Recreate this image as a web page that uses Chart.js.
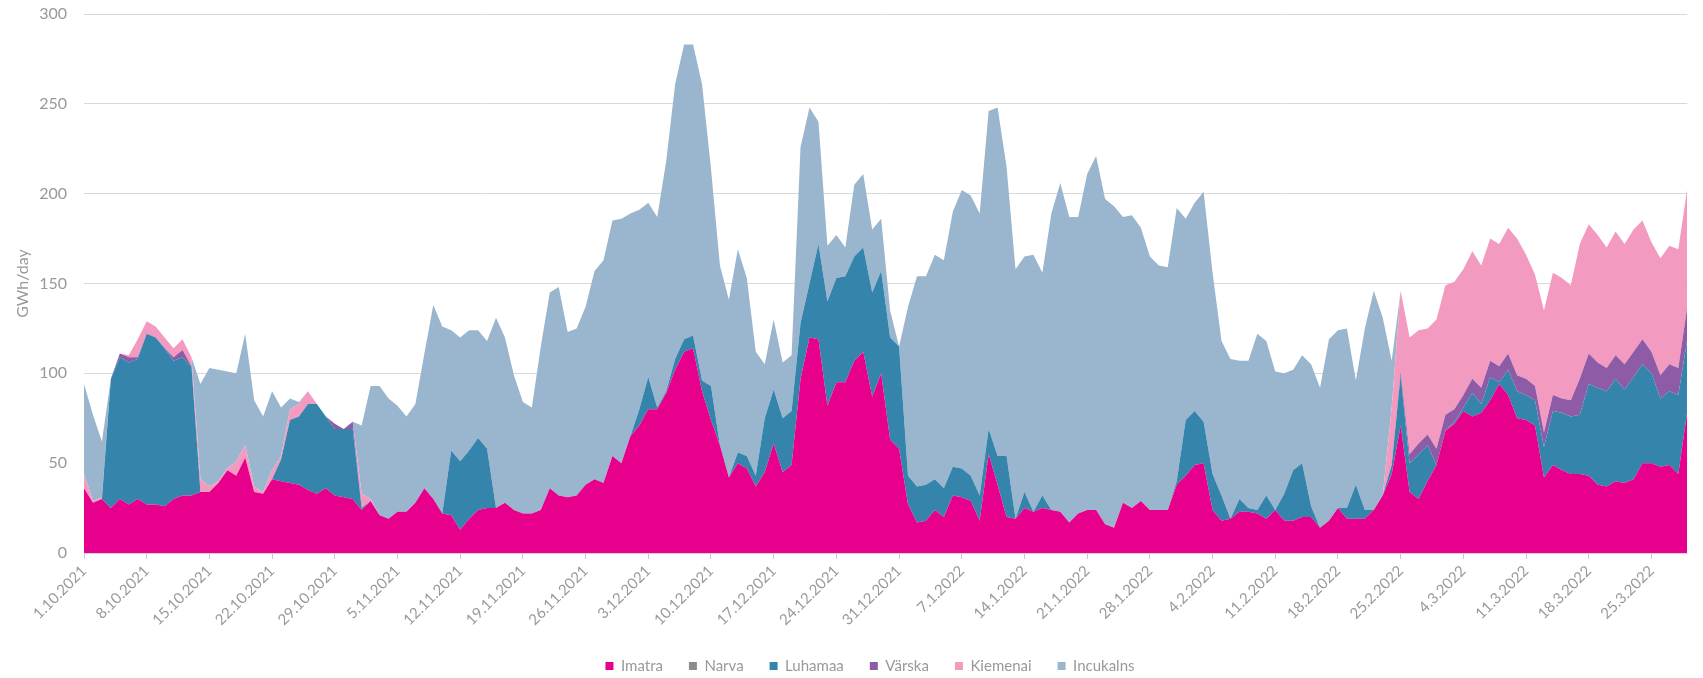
<!DOCTYPE html>
<html>
<head>
<meta charset="utf-8">
<script src="https://cdn.jsdelivr.net/npm/chart.js@4.4.1/dist/chart.umd.min.js"></script>
<style>
  html, body { margin: 0; padding: 0; background: #ffffff; overflow: hidden; }
  #wrap { width: 1703px; height: 678px; }
</style>
</head>
<body>
<div id="wrap"><canvas id="c" width="1703" height="678"></canvas></div>
<script>
// ---- Data (GWh/day), one value per day from 1.10.2021 to 29.3.2022 ----
const startDate = { year: 2021, month: 10, day: 1 };
const dayCount = 180;

const tickLabels = ['1.10.2021','8.10.2021','15.10.2021','22.10.2021','29.10.2021','5.11.2021','12.11.2021','19.11.2021','26.11.2021','3.12.2021','10.12.2021','17.12.2021','24.12.2021','31.12.2021','7.1.2022','14.1.2022','21.1.2022','28.1.2022','4.2.2022','11.2.2022','18.2.2022','25.2.2022','4.3.2022','11.3.2022','18.3.2022','25.3.2022'];

const seriesNames = ['Imatra', 'Narva', 'Luhamaa', 'Värska', 'Kiemenai', 'Incukalns'];

const imatra = [
  36,28,30,25,30,27,30,27,27,26,
  30,32,32,34,34,39,46,43,53,34,
  33,41,40,39,38,35,33,36,32,31,
  30,24,29,21,19,23,23,28,36,30,
  22,21,13,19,24,25,25,28,24,22,
  22,24,36,32,31,32,38,41,39,54,
  50,65,71,80,80,89,102,112,114,90,
  74,60,42,50,47,37,45,61,45,49,
  97,120,119,82,95,95,107,112,87,100,
  63,58,27,17,18,24,20,32,31,29,
  18,55,38,20,19,25,23,25,24,23,
  17,22,24,24,16,14,28,25,29,24,
  24,24,38,43,49,50,24,18,19,23,
  23,22,19,24,18,18,20,20,14,18,
  25,19,19,19,24,32,44,71,34,30,
  40,49,68,72,79,76,78,85,94,88,
  75,74,71,42,49,46,44,44,43,38,
  37,40,39,41,50,50,48,49,44,79
];

const narva = [
  0,0,0,0,0,0,0,0,0,0, 0,0,0,0,0,0,0,0,0,0,
  0,0,0,0,0,0,0,0,0,0, 0,0,0,0,0,0,0,0,0,0,
  0,0,0,0,0,0,0,0,0,0, 0,0,0,0,0,0,0,0,0,0,
  0,0,0,0,0,0,0,0,0,0, 0,0,0,0,0,0,0,0,0,0,
  0,0,0,0,0,0,0,0,0,0, 0,0,0,0,0,0,0,0,0,0,
  0,0,0,0,0,0,0,0,0,0, 0,0,0,0,0,0,0,0,0,0,
  0,0,0,0,0,0,0,0,0,0, 0,0,0,0,0,0,0,0,0,0,
  0,0,0,0,0,0,0,0,0,0, 0,0,0,0,0,0,0,0,0,0,
  0,0,0,0,0,0,0,0,0,0, 0,0,0,0,0,0,0,0,0,0
];

const luhamaa = [
  0,0,0,72,79,79,78,95,93,88,
  77,77,72,0,0,0,0,0,0,0,
  0,0,12,35,38,48,50,40,37,38,
  39,1,0,0,0,0,0,0,0,0,
  0,36,38,38,40,33,0,0,0,0,
  0,0,0,0,0,0,0,0,0,0,
  0,0,9,18,1,1,6,7,7,6,
  19,0,0,6,7,6,30,30,30,30,
  31,30,53,58,58,59,58,58,58,57,
  57,57,16,20,20,17,16,16,16,14,
  14,14,16,34,0,9,0,7,0,0,
  0,0,0,0,0,0,0,0,0,0,
  0,0,2,31,30,23,20,14,0,7,
  2,2,13,0,15,28,30,6,0,0,
  0,6,19,5,0,0,5,28,16,25,
  20,0,0,1,2,13,5,13,1,14,
  15,14,14,17,30,32,32,33,51,54,
  53,57,52,57,55,50,38,41,44,40
];

const varska = [
  0,0,0,0,2,3,1,0,0,0,
  2,4,0,0,0,0,0,0,0,0,
  0,0,0,0,0,0,0,0,3,0,
  4,0,0,0,0,0,0,0,0,0,
  0,0,0,0,0,0,0,0,0,0,
  0,0,0,0,0,0,0,0,0,0,
  0,0,0,0,0,0,0,0,0,0,
  0,0,0,0,0,0,0,0,0,0,
  0,0,0,0,0,0,0,0,0,0,
  0,0,0,0,0,0,0,0,0,0,
  0,0,0,0,0,0,0,0,0,0,
  0,0,0,0,0,0,0,0,0,0,
  0,0,0,0,0,0,0,0,0,0,
  0,0,0,0,0,0,0,0,0,0,
  0,0,0,0,0,0,0,2,5,6,
  6,9,9,7,7,8,9,9,9,9,
  9,9,8,8,9,8,9,20,17,14,
  13,13,14,14,14,12,13,15,15,18
];

const kiemenai = [
  8,1,1,0,0,1,10,7,6,6,
  5,6,5,7,3,1,1,8,7,3,
  1,5,2,6,7,7,0,0,0,0,
  0,8,1,0,0,0,0,0,0,0,
  0,0,0,0,0,0,0,0,0,0,
  0,0,0,0,0,0,0,0,0,0,
  0,0,0,0,0,0,0,0,0,0,
  0,0,0,0,0,0,0,0,0,0,
  0,0,0,0,0,0,0,0,0,0,
  0,0,0,0,0,0,0,0,0,0,
  0,0,0,0,0,0,0,0,0,0,
  0,0,0,0,0,0,0,0,0,0,
  0,0,0,0,0,0,0,0,0,0,
  0,0,0,0,0,0,0,0,0,0,
  0,0,0,0,0,0,32,45,65,63,
  59,72,72,71,70,71,68,68,68,70,
  76,69,62,68,68,67,64,75,72,71,
  67,69,67,68,66,61,65,66,66,66
];

const incukalns = [
  50,48,31,0,0,0,0,0,0,0,
  0,0,0,53,66,62,54,49,62,48,
  42,44,27,6,1,0,0,0,0,0,
  0,38,63,72,67,59,53,55,75,108,
  104,67,69,67,60,60,106,92,75,62,
  59,91,109,116,92,93,99,116,124,131,
  136,124,111,97,106,128,153,164,162,165,
  121,100,99,113,99,69,30,39,31,31,
  98,98,68,31,24,16,40,41,35,29,
  15,0,94,117,116,125,127,142,155,156,
  157,177,194,161,139,131,143,124,165,183,
  170,165,187,197,181,179,159,163,152,141,
  136,135,152,112,116,128,112,86,89,77,
  82,98,86,77,67,56,60,79,78,101,
  99,100,58,101,122,99,26,0,0,0,
  0,0,0,0,0,0,0,0,0,0,
  0,0,0,0,0,0,0,0,0,0,
  0,0,0,0,0,0,0,0,0,0
];

const seriesColors = ['#E6008B', '#8C8C8C', '#3584AB', '#8E5BA6', '#F39AC1', '#9AB5CE'];

// ---- Daily category labels ----
const dates = [];
for (let i = 0; i < dayCount; i++) {
  const d = new Date(Date.UTC(startDate.year, startDate.month - 1, startDate.day + i));
  dates.push(d.getUTCDate() + '.' + (d.getUTCMonth() + 1) + '.' + d.getUTCFullYear());
}
const tickSet = new Set(tickLabels);

const seriesValues = [imatra, narva, luhamaa, varska, kiemenai, incukalns];
const datasets = seriesNames.map((name, i) => ({
  label: name,
  data: seriesValues[i],
  backgroundColor: seriesColors[i],
  borderColor: 'rgba(0,0,0,0)',
  borderWidth: 0,
  pointRadius: 0,
  pointHoverRadius: 0,
  tension: 0,
  fill: i === 0 ? 'origin' : '-1'
}));

const FONT = 'Lato, "Open Sans", sans-serif';
const GREY = '#999999';

const legendShift = {
  id: 'legendShift',
  afterLayout(chart) {
    const l = chart.legend;
    if (l) { l.left += 21; l.right += 21; l.top += 5.5; l.bottom += 5.5; }
  }
};

new Chart(document.getElementById('c'), {
  type: 'line',
  data: { labels: dates, datasets },
  plugins: [legendShift],
  options: {
    responsive: false,
    devicePixelRatio: 1,
    animation: false,
    layout: { padding: { left: 0, right: 5, top: 14, bottom: 0 } },
    interaction: { mode: 'index', intersect: false },
    plugins: {
      tooltip: { enabled: false },
      legend: {
        position: 'bottom',
        labels: {
          boxWidth: 8,
          boxHeight: 8,
          padding: 26,
          color: GREY,
          font: { family: FONT, size: 15 }
        }
      }
    },
    scales: {
      x: {
        offset: false,
        grid: {
          display: true,
          drawOnChartArea: false,
          drawTicks: true,
          tickLength: 6,
          color: (ctx) => (ctx.tick && tickSet.has(dates[ctx.index])) ? '#c8c8c8' : 'rgba(0,0,0,0)'
        },
        border: { display: true, color: '#d9d9d9' },
        ticks: {
          autoSkip: false,
          minRotation: 45,
          maxRotation: 45,
          padding: 3,
          color: GREY,
          font: { family: FONT, size: 15 },
          callback: (v, idx) => tickSet.has(dates[idx]) ? dates[idx] : ''
        },
        afterFit: (s) => { s.height = 74; }
      },
      y: {
        stacked: true,
        min: 0,
        max: 300,
        ticks: {
          stepSize: 50,
          padding: 2,
          color: GREY,
          font: { family: FONT, size: 16 }
        },
        grid: {
          color: '#d9d9d9',
          lineWidth: 1,
          drawTicks: true,
          tickLength: 15,
          tickColor: 'rgba(0,0,0,0)'
        },
        border: { display: false },
        title: {
          display: true,
          text: 'GWh/day',
          color: GREY,
          font: { family: FONT, size: 16 },
          padding: { top: 13, bottom: 0 }
        },
        afterFit: (s) => { s.width = 84; }
      }
    }
  }
});
</script>
</body>
</html>
